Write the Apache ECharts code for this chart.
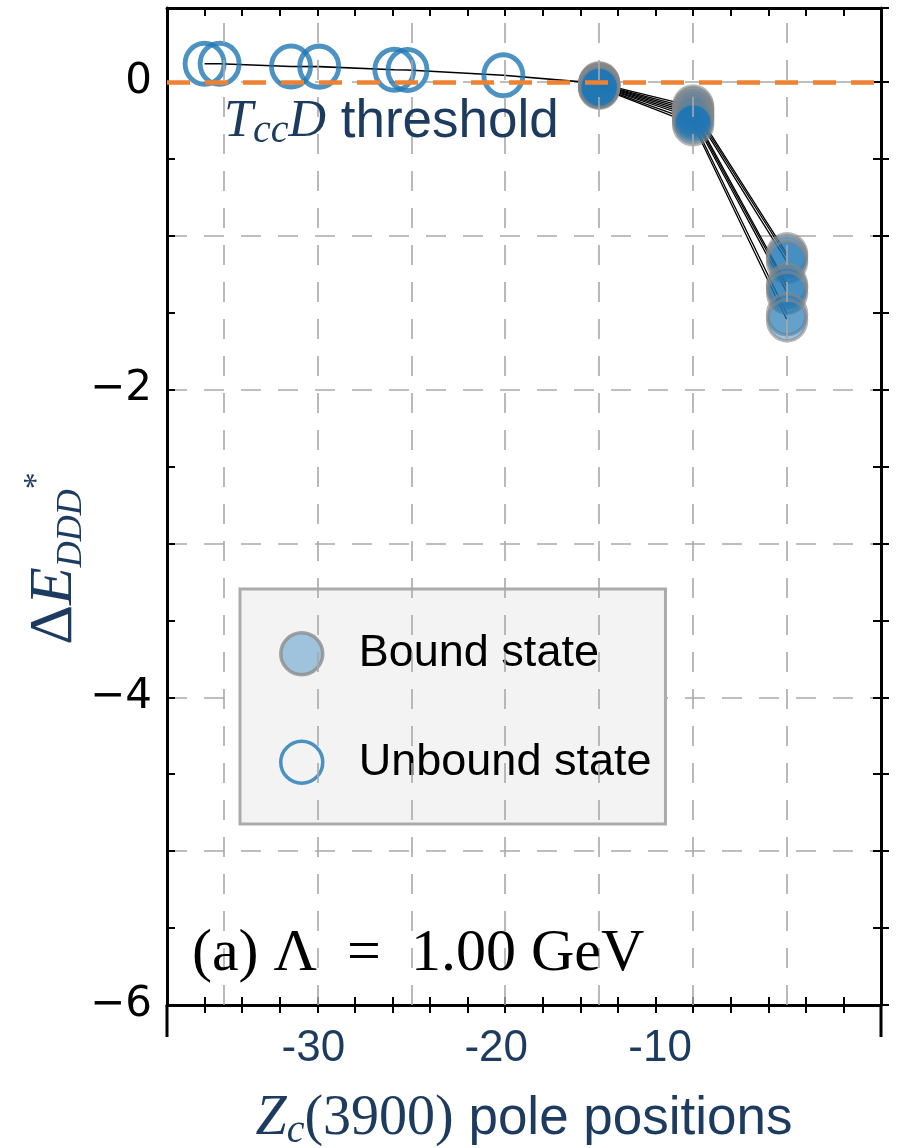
<!DOCTYPE html>
<html>
<head>
<meta charset="utf-8">
<script src="https://cdn.jsdelivr.net/npm/echarts@6/dist/echarts.min.js"></script>
<style>
  html, body { margin: 0; padding: 0; background: #ffffff; }
  #chart { width: 905px; height: 1148px; }
</style>
</head>
<body>
<div id="chart"></div>
<script>
// Unbound poles: Zc(3900) pole position vs. DDD* energy above threshold
const unboundX = [-36.0, -35.2, -31.4, -29.9, -25.9, -25.2, -20.1];
const unboundY = [0.118, 0.118, 0.100, 0.099, 0.079, 0.077, 0.043];

// Bound trajectories, one value per trajectory at each pole position
const boundX = [-15, -10, -5];
const boundAt15 = [-0.010, -0.014, -0.018, -0.022, -0.026, -0.030, -0.034, -0.038];
const boundAt10 = [-0.160, -0.175, -0.190, -0.205, -0.220, -0.235, -0.255, -0.275];
const boundAt5  = [-1.12, -1.14, -1.17, -1.32, -1.34, -1.37, -1.51, -1.55];

// Axis ticks and reference lines
const xTickLabels = [-30, -20, -10];
const yTickLabels = [0, -2, -4, -6];
const xGridLines = [-35, -30, -25, -20, -15, -10, -5];
const thresholdY = 0;
const xRange = [-38, 0];
const yRange = [-6, 0.48];

const NAVY = '#1c3b5f';
const BLUE = '#1f77b4';
const SERIF = 'Liberation Serif';
const SANS = 'Liberation Sans';

const chart = echarts.init(document.getElementById('chart'), null, { renderer: 'canvas' });

// trajectories through the bound poles
const boundColumns = [boundAt15, boundAt10, boundAt5];
const trajectories = boundAt15.map((_, i) => boundX.map((x, k) => [x, boundColumns[k][i]]));
const boundPoints = [];
boundColumns.forEach((col, k) => col.forEach(y => boundPoints.push([boundX[k], y])));

const unboundPoints = unboundX.map((x, i) => [x, unboundY[i]]);
const unboundPath = unboundPoints.slice().sort((a, b) => a[0] - b[0]).concat([[boundX[0], boundAt15[0]]]);

const dashGrid = { color: '#a9a9a9', width: 1.6, type: [20, 17] };

const isLabel = (v, list) => list.some(t => Math.abs(t - v) < 1e-9);

// the tick labels sit slightly left of their ticks
const xLabelRich = {
  l30: { padding: [0, 8, 0, 0] },
  l20: { padding: [0, 18, 0, 0] },
  l10: { padding: [0, 66, 0, 0] }
};

const series = [
  {
    // vertical grid lines every five units
    type: 'line', name: 'grid', data: [], silent: true, z: 1,
    markLine: {
      silent: true, symbol: 'none', label: { show: false },
      lineStyle: dashGrid,
      data: xGridLines.map(v => ({ xAxis: v }))
    }
  },
  {
    type: 'line', name: 'unbound path', data: unboundPath, showSymbol: false, symbol: 'none',
    lineStyle: { color: '#000', width: 1.6 }, silent: true, z: 2
  }
].concat(trajectories.map((d, i) => ({
  type: 'line', name: 'trajectory ' + (i + 1), data: d, showSymbol: false, symbol: 'none',
  lineStyle: { color: '#000', width: 1.3 }, silent: true, z: 2
}))).concat([
  {
    type: 'scatter', name: 'Unbound state', data: unboundPoints, z: 3,
    symbol: 'circle', symbolSize: [39, 41],
    itemStyle: { color: 'rgba(255,255,255,0)', borderColor: BLUE, borderWidth: 5 }
  },
  {
    type: 'scatter', name: 'Bound state', data: boundPoints, z: 3,
    symbol: 'circle', symbolSize: [39, 41],
    itemStyle: { color: 'rgba(31,119,180,0.55)', borderColor: 'rgba(135,135,135,0.75)', borderWidth: 3.5 }
  },
  {
    // DDD* threshold of the Tcc D system
    type: 'line', name: 'threshold', data: [], silent: true, z: 6,
    markLine: {
      silent: true, symbol: 'none', label: { show: false },
      lineStyle: { color: '#ee8232', width: 4.5, type: [23, 15] },
      data: [{ yAxis: thresholdY }]
    }
  }
]);

const baseX = {
  type: 'value', min: xRange[0], max: xRange[1], interval: 2,
  splitLine: { show: false }
};
const baseY = {
  type: 'value', min: yRange[0], max: yRange[1], interval: 0.5,
  splitLine: { show: false }
};

const option = {
  animation: false,
  backgroundColor: '#ffffff',
  grid: { left: 167, right: 24, top: 8, bottom: 143, containLabel: false, outerBoundsMode: 'none' },
  xAxis: [
    Object.assign({}, baseX, {
      position: 'bottom',
      axisLine: { show: true, onZero: false, lineStyle: { color: '#000', width: 3 } },
      axisTick: { show: true, inside: true, length: 8, lineStyle: { color: '#000', width: 2 } },
      axisLabel: {
        formatter: v => isLabel(v, xTickLabels) ? '{l' + Math.abs(v) + '|' + v + '}' : '',
        rich: xLabelRich,
        color: NAVY, fontSize: 44, fontFamily: SANS, margin: 22
      },
      name: '{z|Z}{sub|c}{n|(3900)}{s| pole positions}',
      nameLocation: 'middle', nameGap: 82,
      nameTextStyle: {
        color: NAVY,
        rich: {
          z: { fontFamily: SERIF, fontStyle: 'italic', fontSize: 56, color: NAVY, lineHeight: 64 },
          sub: { fontFamily: SERIF, fontStyle: 'italic', fontSize: 40, color: NAVY, lineHeight: 26, verticalAlign: 'bottom' },
          n: { fontFamily: SERIF, fontSize: 56, color: NAVY, lineHeight: 64 },
          s: { fontFamily: SANS, fontSize: 53, color: NAVY, lineHeight: 64 }
        }
      }
    }),
    Object.assign({}, baseX, {
      position: 'bottom',
      axisLine: { show: false, onZero: false },
      axisTick: { show: true, inside: false, length: 8, lineStyle: { color: '#000', width: 2 } },
      axisLabel: { show: false }
    }),
    Object.assign({}, baseX, {
      position: 'top',
      axisLine: { show: true, onZero: false, lineStyle: { color: '#000', width: 3 } },
      axisTick: { show: true, inside: true, length: 8, lineStyle: { color: '#000', width: 2 } },
      axisLabel: { show: false }
    })
  ],
  yAxis: [
    Object.assign({}, baseY, {
      position: 'left',
      axisLine: { show: true, onZero: false, lineStyle: { color: '#000', width: 3 } },
      axisTick: { show: true, inside: true, length: 8, lineStyle: { color: '#000', width: 2 } },
      axisLabel: {
        formatter: v => isLabel(v, yTickLabels) ? (v < 0 ? '\u2212' + Math.abs(v) : String(v)) : '',
        color: '#000', fontSize: 42, fontFamily: 'DejaVu Sans', margin: 15
      },
      name: '{d|\u0394}{e|E}{sub|DDD}{sup|*}',
      nameLocation: 'middle', nameRotate: 90, nameGap: 77, nameMoveOverlap: false,
      nameTextStyle: {
        color: NAVY, padding: [0, 104, 0, 0],
        rich: {
          d: { fontFamily: SERIF, fontSize: 62, color: NAVY, lineHeight: 70 },
          e: { fontFamily: SERIF, fontStyle: 'italic', fontSize: 62, color: NAVY, lineHeight: 70 },
          sub: { fontFamily: SERIF, fontStyle: 'italic', fontSize: 36, color: NAVY, lineHeight: 30, verticalAlign: 'bottom' },
          sup: { fontFamily: SERIF, fontSize: 34, color: NAVY, lineHeight: 56, verticalAlign: 'top' }
        }
      }
    }),
    Object.assign({}, baseY, {
      position: 'left', interval: 1,
      axisLine: { show: false, onZero: false },
      axisTick: { show: false },
      axisLabel: { show: false },
      splitLine: { show: true, lineStyle: dashGrid }
    }),
    Object.assign({}, baseY, {
      position: 'right',
      axisLine: { show: true, onZero: false, lineStyle: { color: '#000', width: 3 } },
      axisTick: { show: true, inside: true, length: 8, lineStyle: { color: '#000', width: 2 } },
      axisLabel: { show: false }
    }),
    Object.assign({}, baseY, {
      position: 'right',
      axisLine: { show: false, onZero: false },
      axisTick: { show: true, inside: false, length: 8, lineStyle: { color: '#000', width: 2 } },
      axisLabel: { show: false }
    })
  ],
  legend: {
    show: true, orient: 'vertical', left: 240, top: 589,
    selectedMode: false,
    backgroundColor: '#f3f3f3', borderColor: '#ababab', borderWidth: 3, borderRadius: 0,
    padding: [42, 14, 39, 39],
    itemWidth: 42, itemHeight: 44, itemGap: 63,
    textStyle: { color: '#000', fontSize: 45, fontFamily: SANS, lineHeight: 44, padding: [0, 0, 0, 31] },
    data: [
      { name: 'Bound state', icon: 'circle',
        itemStyle: { color: '#8ab6d6', borderColor: '#8c8c8c', borderWidth: 3.5 } },
      { name: 'Unbound state', icon: 'circle',
        itemStyle: { color: 'rgba(255,255,255,0)', borderColor: BLUE, borderWidth: 3.5 } }
    ]
  },
  series: series
};

chart.setOption(option);

// annotations and the frame ends that reach below the bottom axis
const corner = (x, y) => chart.convertToPixel({ xAxisIndex: 0, yAxisIndex: 0 }, [x, y]);
const bl = corner(xRange[0], yRange[0]);
const br = corner(xRange[1], yRange[0]);

chart.setOption({
  graphic: [
    {
      id: 'thresholdLabel', type: 'text', left: 224, top: 96, z: 10, silent: true,
      style: {
        text: '{t|T}{sub|cc}{t|D}{s| threshold}',
        rich: {
          t: { fontFamily: SERIF, fontStyle: 'italic', fontSize: 52, fill: NAVY, lineHeight: 58 },
          sub: { fontFamily: SERIF, fontStyle: 'italic', fontSize: 40, fill: NAVY, lineHeight: 20, verticalAlign: 'bottom' },
          s: { fontFamily: SANS, fontSize: 53, fill: NAVY, lineHeight: 58 }
        }
      }
    },
    {
      id: 'cutoffLabel', type: 'text', left: 192, top: 924, z: 10, silent: true,
      style: {
        text: '(a) \u039B  =  1.00 GeV',
        fontFamily: SERIF, fontSize: 60, fill: '#000'
      }
    },
    {
      id: 'frameLeft', type: 'line', z: 10, silent: true,
      shape: { x1: bl[0], y1: bl[1], x2: bl[0], y2: bl[1] + 32 },
      style: { stroke: '#000', lineWidth: 3 }
    },
    {
      id: 'frameRight', type: 'line', z: 10, silent: true,
      shape: { x1: br[0], y1: br[1], x2: br[0], y2: br[1] + 32 },
      style: { stroke: '#000', lineWidth: 3 }
    }
  ]
});
</script>
</body>
</html>
